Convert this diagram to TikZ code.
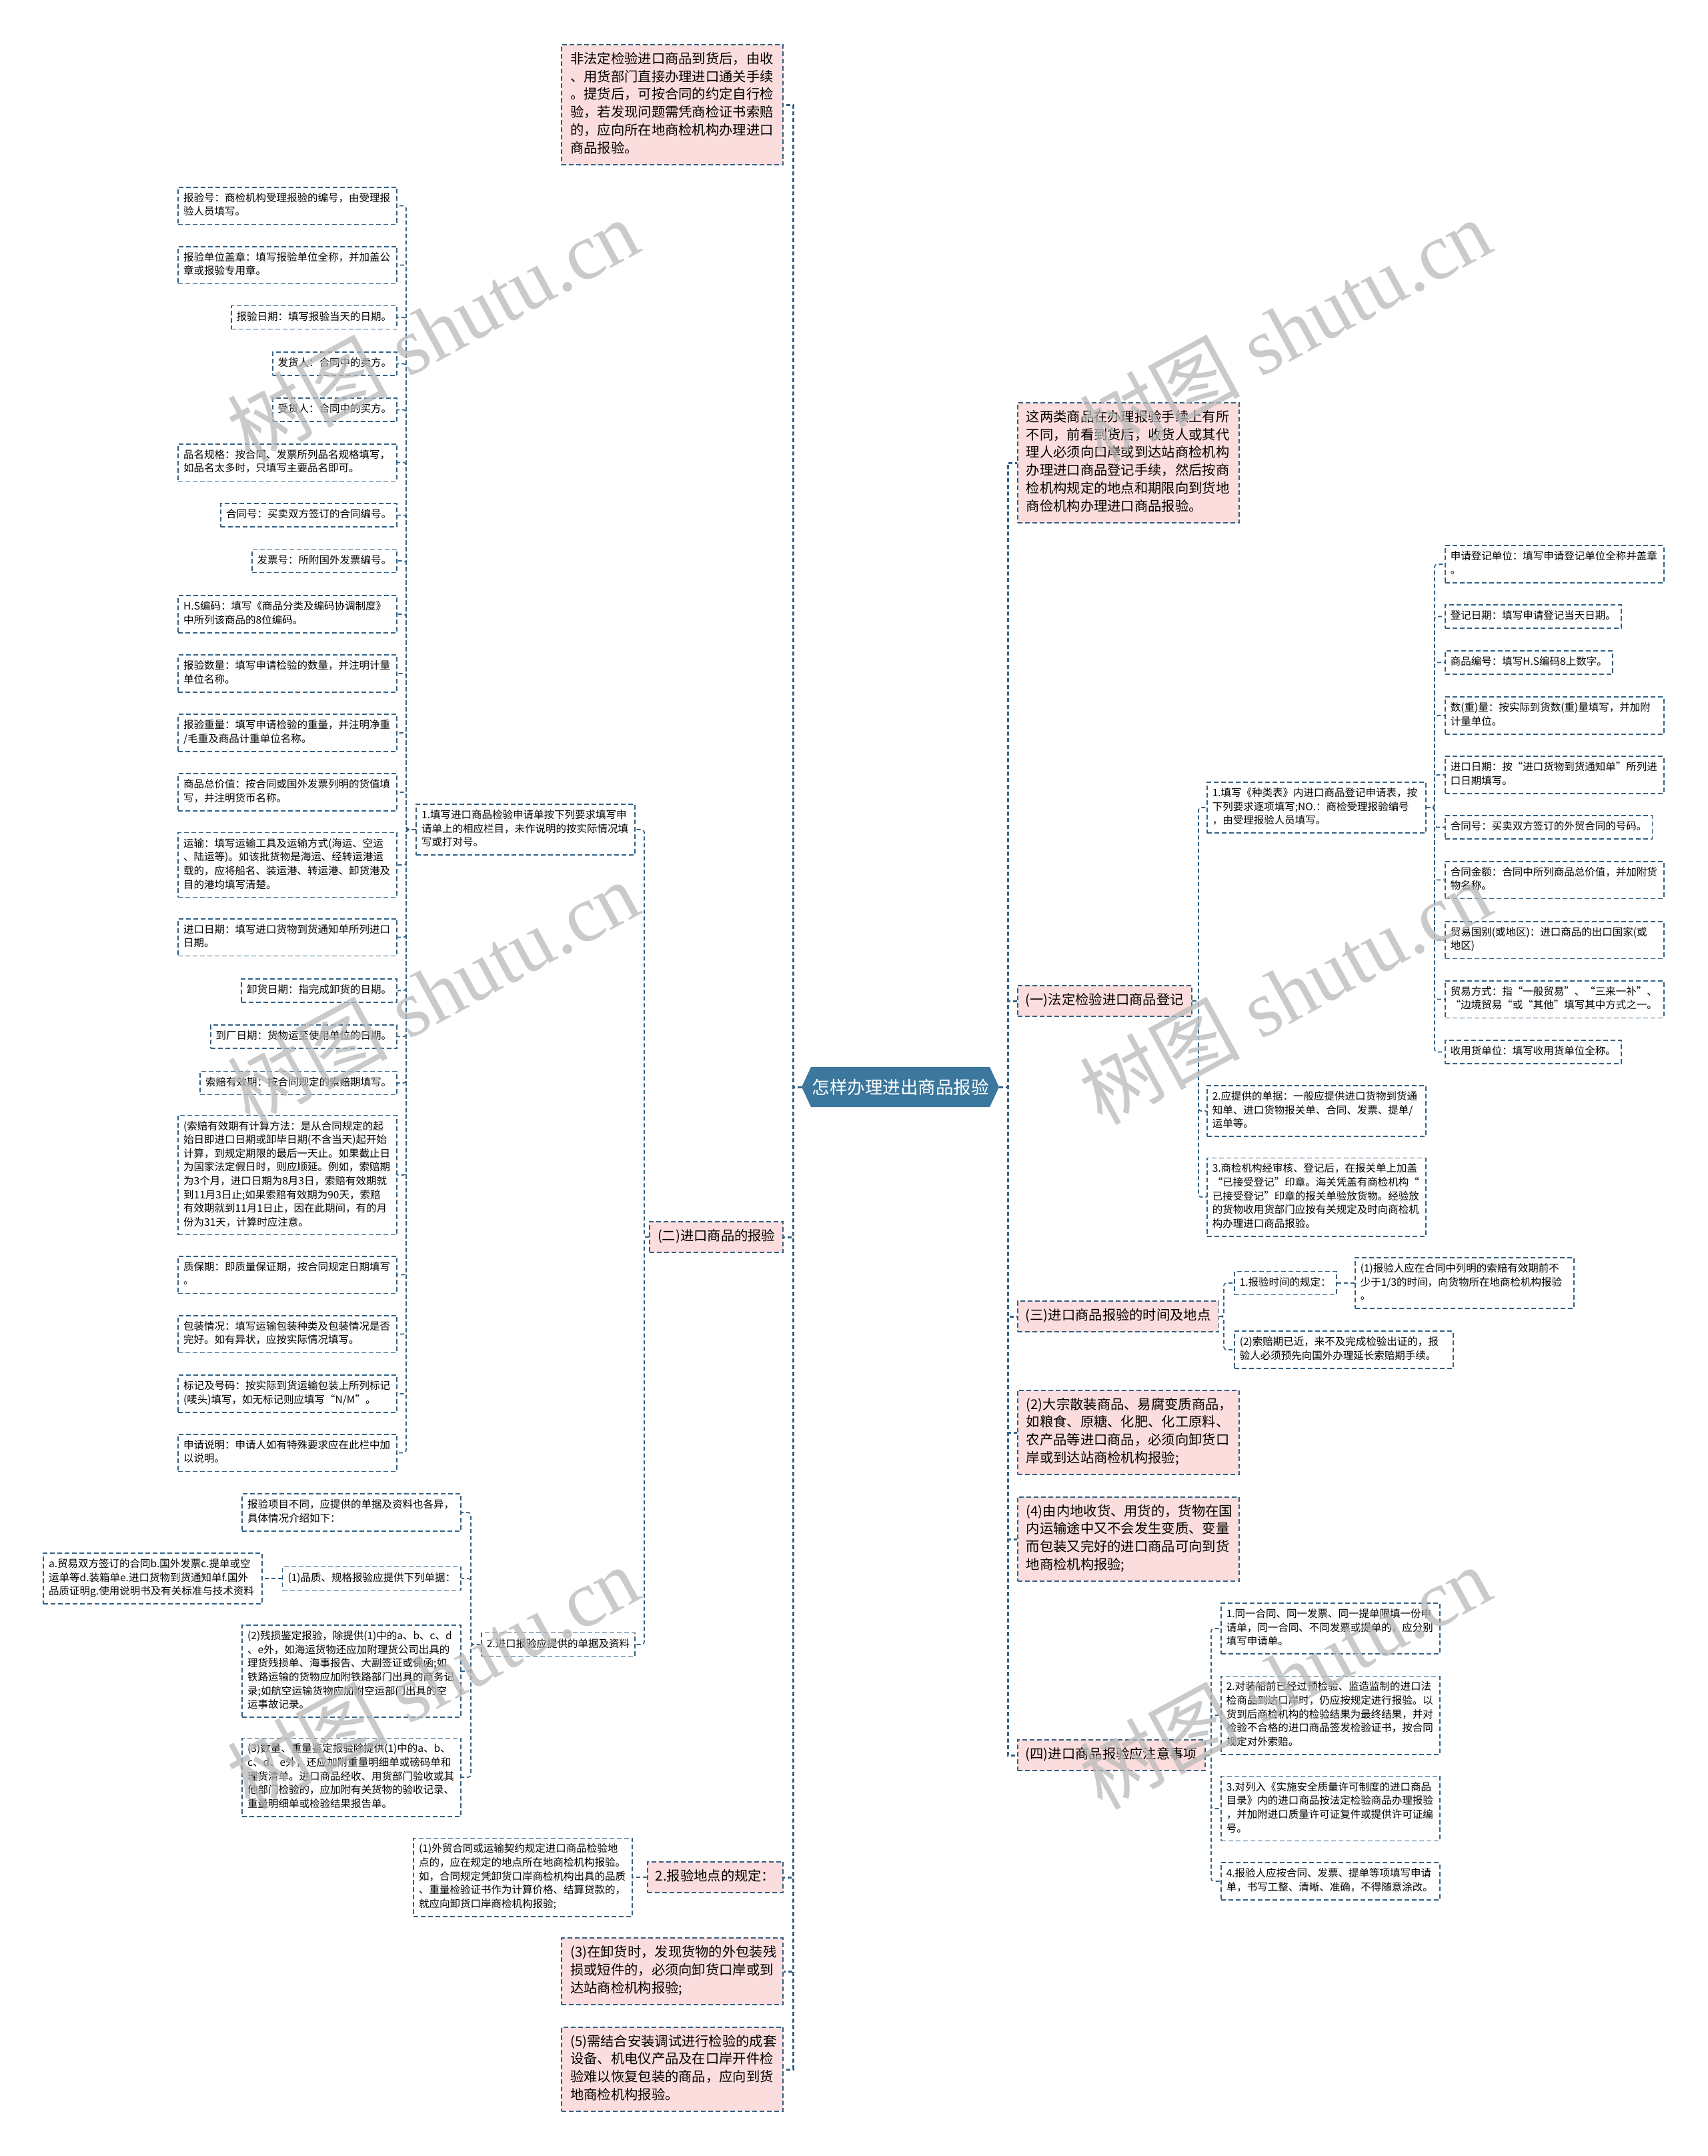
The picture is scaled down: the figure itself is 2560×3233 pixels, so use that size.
\documentclass[tikz,border=0pt]{standalone}
\usepackage{fontspec}
\setmainfont{Noto Sans CJK SC}
\newfontfamily\wmlatin{Liberation Serif}
\usetikzlibrary{shapes.symbols}
\definecolor{linec}{RGB}{52,96,130}
\definecolor{rootc}{RGB}{60,120,158}
\definecolor{pinkc}{RGB}{252,221,221}
\definecolor{wmc}{RGB}{185,185,185}
\tikzset{
  sbox/.style={draw=linec, line width=1.6pt, dash pattern=on 7pt off 4pt, fill=white, align=left, inner xsep=8pt, inner ysep=7.2pt, font=\fontsize{15.5}{20.6}\selectfont, execute at begin node=\strut, execute at end node=\strut},
  wsbox/.style={sbox, text width=312pt},
  pbox/.style={draw=linec, line width=1.6pt, dash pattern=on 7pt off 4pt, fill=pinkc, align=left, inner xsep=12pt, inner ysep=9.6pt, font=\fontsize{20.3}{26.8}\selectfont, execute at begin node=\strut, execute at end node=\strut},
  wpbox/.style={pbox, inner xsep=13pt, text width=306pt},
  conn/.style={draw=linec, line width=1.6pt, dash pattern=on 6pt off 4pt, rounded corners=4pt},
  trunk/.style={draw=linec, line width=3pt, dash pattern=on 6pt off 4pt},
  wm/.style={text=wmc, opacity=0.75, font=\fontsize{120}{130}\selectfont, inner sep=0pt},
}
\begin{document}
\begin{tikzpicture}[x=1pt,y=-1pt]
\useasboundingbox (0,0) rectangle (2560,3233);
\fill[white] (0,0) rectangle (2560,3233);

% junction coordinates
\coordinate (jL) at (1189,0);
\coordinate (jR) at (1511,0);
\coordinate (j2) at (966,0);
\coordinate (j2a) at (609,0);
\coordinate (j2b) at (706,0);
\coordinate (j1) at (1797,0);
\coordinate (j1a) at (2151,0);
\coordinate (j3r) at (1835,0);
\coordinate (j4) at (1816,0);

% root
\node[signal, signal to=west and east, signal pointer angle=130, fill=rootc, text=white, font=\fontsize{26.5}{35}\selectfont, minimum width=296pt, minimum height=60pt, inner sep=0pt] (root) at (1350,1630) {怎样办理进出商品报验};

% ===== left side =====
\node[wpbox, anchor=east] (top) at (1175,157) {非法定检验进口商品到货后，由收\\、用货部门直接办理进口通关手续\\。提货后，可按合同的约定自行检\\验，若发现问题需凭商检证书索赔\\的，应向所在地商检机构办理进口\\商品报验。};

\node[pbox, anchor=east] (b2) at (1175,1855) {(二)进口商品的报验};
\node[wsbox, anchor=east] (b2a) at (953,1244) {1.填写进口商品检验申请单按下列要求填写申\\请单上的相应栏目，未作说明的按实际情况填\\写或打对号。};

\node[wsbox, anchor=east] (c1) at (596,308.5) {报验号：商检机构受理报验的编号，由受理报\\验人员填写。};
\node[wsbox, anchor=east] (c2) at (596,397.5) {报验单位盖章：填写报验单位全称，并加盖公\\章或报验专用章。};
\node[sbox, anchor=east] (c3) at (596,476) {报验日期：填写报验当天的日期。};
\node[sbox, anchor=east] (c4) at (596,545.5) {发货人：合同中的卖方。};
\node[sbox, anchor=east] (c5) at (596,614.5) {受货人：合同中的买方。};
\node[wsbox, anchor=east] (c6) at (596,693.5) {品名规格：按合同、发票所列品名规格填写，\\如品名太多时，只填写主要品名即可。};
\node[sbox, anchor=east] (c7) at (596,772.5) {合同号：买卖双方签订的合同编号。};
\node[sbox, anchor=east] (c8) at (596,841) {发票号：所附国外发票编号。};
\node[wsbox, anchor=east] (c9) at (596,921) {H.S编码：填写《商品分类及编码协调制度》\\中所列该商品的8位编码。};
\node[wsbox, anchor=east] (c10) at (596,1010) {报验数量：填写申请检验的数量，并注明计量\\单位名称。};
\node[wsbox, anchor=east] (c11) at (596,1099) {报验重量：填写申请检验的重量，并注明净重\\/毛重及商品计重单位名称。};
\node[wsbox, anchor=east] (c12) at (596,1188) {商品总价值：按合同或国外发票列明的货值填\\写，并注明货币名称。};
\node[wsbox, anchor=east] (c13) at (596,1297) {运输：填写运输工具及运输方式(海运、空运\\、陆运等)。如该批货物是海运、经转运港运\\载的，应将船名、装运港、转运港、卸货港及\\目的港均填写清楚。};
\node[wsbox, anchor=east] (c14) at (596,1405.5) {进口日期：填写进口货物到货通知单所列进口\\日期。};
\node[sbox, anchor=east] (c15) at (596,1485.5) {卸货日期：指完成卸货的日期。};
\node[sbox, anchor=east] (c16) at (596,1554.5) {到厂日期：货物运至使用单位的日期。};
\node[sbox, anchor=east] (c17) at (596,1624) {索赔有效期：按合同规定的索赔期填写。};
\node[wsbox, anchor=east] (c18) at (596,1762) {(索赔有效期有计算方法：是从合同规定的起\\始日即进口日期或卸毕日期(不含当天)起开始\\计算，到规定期限的最后一天止。如果截止日\\为国家法定假日时，则应顺延。例如，索赔期\\为3个月，进口日期为8月3日，索赔有效期就\\到11月3日止;如果索赔有效期为90天，索赔\\有效期就到11月1日止，因在此期间，有的月\\份为31天，计算时应注意。};
\node[wsbox, anchor=east] (c19) at (596,1911.5) {质保期：即质量保证期，按合同规定日期填写\\。};
\node[wsbox, anchor=east] (c20) at (596,2000.5) {包装情况：填写运输包装种类及包装情况是否\\完好。如有异状，应按实际情况填写。};
\node[wsbox, anchor=east] (c21) at (596,2090) {标记及号码：按实际到货运输包装上所列标记\\(唛头)填写，如无标记则应填写“N/M”。};
\node[wsbox, anchor=east] (c22) at (596,2178.5) {申请说明：申请人如有特殊要求应在此栏中加\\以说明。};

\node[sbox, anchor=east] (b2b) at (953,2466) {2.进口报验应提供的单据及资料};
\node[wsbox, anchor=east] (d1) at (692,2268) {报验项目不同，应提供的单据及资料也各异，\\具体情况介绍如下：};
\node[sbox, anchor=east] (d2) at (692,2367) {(1)品质、规格报验应提供下列单据：};
\node[wsbox, anchor=east] (d2a) at (394,2367) {a.贸易双方签订的合同b.国外发票c.提单或空\\运单等d.装箱单e.进口货物到货通知单f.国外\\品质证明g.使用说明书及有关标准与技术资料};
\node[wsbox, anchor=east] (d3) at (692,2506) {(2)残损鉴定报验，除提供(1)中的a、b、c、d\\、e外，如海运货物还应加附理货公司出具的\\理货残损单、海事报告、大副签证或保函;如\\铁路运输的货物应加附铁路部门出具的商务记\\录;如航空运输货物应加附空运部门出具的空\\运事故记录。};
\node[wsbox, anchor=east] (d4) at (692,2665) {(3)数量、重量鉴定报验除提供(1)中的a、b、\\c、d、e外，还应加附重量明细单或磅码单和\\理货清单。进口商品经收、用货部门验收或其\\他部门检验的，应加附有关货物的验收记录、\\重量明细单或检验结果报告单。};

\node[pbox, anchor=east] (b3) at (1175,2815) {2.报验地点的规定：};
\node[wsbox, anchor=east] (b3a) at (949,2815) {(1)外贸合同或运输契约规定进口商品检验地\\点的，应在规定的地点所在地商检机构报验。\\如，合同规定凭卸货口岸商检机构出具的品质\\、重量检验证书作为计算价格、结算贷款的，\\就应向卸货口岸商检机构报验;};
\node[wpbox, anchor=east] (b4) at (1175,2956) {(3)在卸货时，发现货物的外包装残\\损或短件的，必须向卸货口岸或到\\达站商检机构报验;};
\node[wpbox, anchor=east] (b5) at (1175,3103) {(5)需结合安装调试进行检验的成套\\设备、机电仪产品及在口岸开件检\\验难以恢复包装的商品，应向到货\\地商检机构报验。};

% ===== right side =====
\node[wpbox, anchor=west] (r1) at (1525,694) {这两类商品在办理报验手续上有所\\不同，前看到货后，收货人或其代\\理人必须向口岸或到达站商检机构\\办理进口商品登记手续，然后按商\\检机构规定的地点和期限向到货地\\商俭机构办理进口商品报验。};

\node[pbox, anchor=west] (r2) at (1525,1501) {(一)法定检验进口商品登记};
\node[wsbox, anchor=west] (r2a) at (1809,1211) {1.填写《种类表》内进口商品登记申请表，按\\下列要求逐项填写;NO.：商检受理报验编号\\，由受理报验人员填写。};
\node[wsbox, anchor=west] (e1) at (2166,846) {申请登记单位：填写申请登记单位全称并盖章\\。};
\node[sbox, anchor=west] (e2) at (2166,924.5) {登记日期：填写申请登记当天日期。};
\node[sbox, anchor=west] (e3) at (2166,993.5) {商品编号：填写H.S编码8上数字。};
\node[wsbox, anchor=west] (e4) at (2166,1073) {数(重)量：按实际到货数(重)量填写，并加附\\计量单位。};
\node[wsbox, anchor=west] (e5) at (2166,1162) {进口日期：按“进口货物到货通知单”所列进\\口日期填写。};
\node[sbox, anchor=west] (e6) at (2166,1240.5) {合同号：买卖双方签订的外贸合同的号码。};
\node[wsbox, anchor=west] (e7) at (2166,1319.5) {合同金额：合同中所列商品总价值，并加附货\\物名称。};
\node[wsbox, anchor=west] (e8) at (2166,1409.5) {贸易国别(或地区)：进口商品的出口国家(或\\地区)};
\node[wsbox, anchor=west] (e9) at (2166,1498.5) {贸易方式：指“一般贸易”、“三来一补”、\\“边境贸易“或“其他”填写其中方式之一。};
\node[sbox, anchor=west] (e10) at (2166,1577.5) {收用货单位：填写收用货单位全称。};
\node[wsbox, anchor=west] (r2b) at (1809,1666) {2.应提供的单据：一般应提供进口货物到货通\\知单、进口货物报关单、合同、发票、提单/\\运单等。};
\node[wsbox, anchor=west] (r2c) at (1809,1795) {3.商检机构经审核、登记后，在报关单上加盖\\“已接受登记”印章。海关凭盖有商检机构“\\已接受登记”印章的报关单验放货物。经验放\\的货物收用货部门应按有关规定及时向商检机\\构办理进口商品报验。};

\node[pbox, anchor=west] (r3) at (1525,1974) {(三)进口商品报验的时间及地点};
\node[sbox, anchor=west] (r3a) at (1850,1924) {1.报验时间的规定：};
\node[wsbox, anchor=west] (r3a1) at (2031,1924) {(1)报验人应在合同中列明的索赔有效期前不\\少于1/3的时间，向货物所在地商检机构报验\\。};
\node[wsbox, anchor=west] (r3b) at (1850,2024) {(2)索赔期已近，来不及完成检验出证的，报\\验人必须预先向国外办理延长索赔期手续。};

\node[wpbox, anchor=west] (r4) at (1525,2148) {(2)大宗散装商品、易腐变质商品，\\如粮食、原糖、化肥、化工原料、\\农产品等进口商品，必须向卸货口\\岸或到达站商检机构报验;};
\node[wpbox, anchor=west] (r5) at (1525,2308) {(4)由内地收货、用货的，货物在国\\内运输途中又不会发生变质、变量\\而包装又完好的进口商品可向到货\\地商检机构报验;};

\node[pbox, anchor=west] (r6) at (1525,2632) {(四)进口商品报验应注意事项};
\node[wsbox, anchor=west] (f1) at (1830,2442) {1.同一合同、同一发票、同一提单限填一份申\\请单，同一合同、不同发票或提单的，应分别\\填写申请单。};
\node[wsbox, anchor=west] (f2) at (1830,2572) {2.对装船前已经过预检验、监造监制的进口法\\检商品到达口岸时，仍应按规定进行报验。以\\货到后商检机构的检验结果为最终结果，并对\\检验不合格的进口商品签发检验证书，按合同\\规定对外索赔。};
\node[wsbox, anchor=west] (f3) at (1830,2712) {3.对列入《实施安全质量许可制度的进口商品\\目录》内的进口商品按法定检验商品办理报验\\，并加附进口质量许可证复件或提供许可证编\\号。};
\node[wsbox, anchor=west] (f4) at (1830,2821) {4.报验人应按合同、发票、提单等项填写申请\\单，书写工整、清晰、准确，不得随意涂改。};

% ===== connectors =====
\foreach \X in {top,b2,b3,b4,b5}
  \draw[trunk] (root.west) -- (root.west -| jL) |- (\X.east);
\foreach \X in {r1,r2,r3,r4,r5,r6}
  \draw[trunk] (root.east) -- (root.east -| jR) |- (\X.west);
\foreach \X in {b2a,b2b}
  \draw[conn] (b2.west) -- (b2.west -| j2) |- (\X.east);
\foreach \X in {c1,c2,c3,c4,c5,c6,c7,c8,c9,c10,c11,c12,c13,c14,c15,c16,c17,c18,c19,c20,c21,c22}
  \draw[conn] (b2a.west) -- (b2a.west -| j2a) |- (\X.east);
\foreach \X in {d1,d2,d3,d4}
  \draw[conn] (b2b.west) -- (b2b.west -| j2b) |- (\X.east);
\draw[conn] (d2.west) -- (d2a.east);
\draw[conn] (b3.west) -- (b3a.east);
\foreach \X in {r2a,r2b,r2c}
  \draw[conn] (r2.east) -- (r2.east -| j1) |- (\X.west);
\foreach \X in {e1,e2,e3,e4,e5,e6,e7,e8,e9,e10}
  \draw[conn] (r2a.east) -- (r2a.east -| j1a) |- (\X.west);
\foreach \X in {r3a,r3b}
  \draw[conn] (r3.east) -- (r3.east -| j3r) |- (\X.west);
\draw[conn] (r3a.east) -- (r3a1.west);
\foreach \X in {f1,f2,f3,f4}
  \draw[conn] (r6.east) -- (r6.east -| j4) |- (\X.west);

% ===== watermarks =====
\node[wm, rotate=28.5] (wm1) at (649,495) {树图\hspace{0.25em}{\wmlatin shutu.cn}};
\node[wm, rotate=28.5] (wm2) at (1927,495) {树图\hspace{0.25em}{\wmlatin shutu.cn}};
\node[wm, rotate=28.5] (wm3) at (649,1488) {树图\hspace{0.25em}{\wmlatin shutu.cn}};
\node[wm, rotate=28.5] (wm4) at (1927,1488) {树图\hspace{0.25em}{\wmlatin shutu.cn}};
\node[wm, rotate=28.5] (wm5) at (649,2515) {树图\hspace{0.25em}{\wmlatin shutu.cn}};
\node[wm, rotate=28.5] (wm6) at (1927,2515) {树图\hspace{0.25em}{\wmlatin shutu.cn}};
\end{tikzpicture}
\end{document}
